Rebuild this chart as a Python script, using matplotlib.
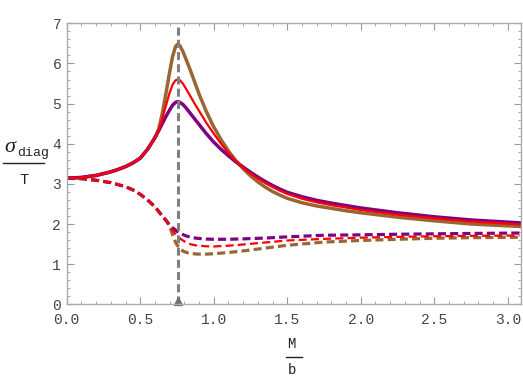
import matplotlib
matplotlib.use("Agg")
import matplotlib.pyplot as plt
from matplotlib.ticker import MultipleLocator
from matplotlib.lines import Line2D

plt.rcParams['lines.scale_dashes'] = False

# ---- data ----
x_solid = [0, 0.1, 0.2, 0.3, 0.35, 0.4, 0.45, 0.5, 0.55, 0.6, 0.625, 0.65, 0.675, 0.7, 0.72,
           0.74, 0.755, 0.77, 0.79, 0.81, 0.84, 0.87, 0.9, 0.95, 1.0, 1.05, 1.1, 1.15, 1.2,
           1.25, 1.3, 1.35, 1.4, 1.45, 1.5, 1.6, 1.7, 1.8, 1.9, 2.0, 2.25, 2.5, 2.75, 3.08]
purple_solid = [3.14, 3.16, 3.21, 3.30, 3.36, 3.43, 3.52, 3.64, 3.86, 4.15, 4.32, 4.50, 4.68,
                4.84, 4.96, 5.03, 5.05, 5.03, 4.98, 4.90, 4.76, 4.62, 4.48, 4.25, 4.04, 3.86,
                3.70, 3.55, 3.42, 3.29, 3.17, 3.06, 2.96, 2.87, 2.79, 2.68, 2.59, 2.52, 2.46,
                2.40, 2.28, 2.18, 2.10, 2.03]
red_solid = [3.14, 3.16, 3.21, 3.30, 3.36, 3.43, 3.52, 3.64, 3.86, 4.15, 4.33, 4.62, 4.95,
             5.27, 5.47, 5.58, 5.60, 5.58, 5.50, 5.38, 5.19, 5.00, 4.82, 4.52, 4.25, 4.00,
             3.77, 3.57, 3.40, 3.26, 3.13, 3.02, 2.92, 2.83, 2.75, 2.63, 2.54, 2.47, 2.41,
             2.35, 2.23, 2.14, 2.06, 1.99]
brown_solid = [3.14, 3.16, 3.21, 3.30, 3.36, 3.43, 3.52, 3.64, 3.86, 4.15, 4.35, 4.75, 5.25,
               5.78, 6.17, 6.42, 6.48, 6.44, 6.30, 6.12, 5.84, 5.54, 5.24, 4.80, 4.42, 4.10,
               3.82, 3.58, 3.38, 3.20, 3.05, 2.92, 2.81, 2.72, 2.64, 2.53, 2.45, 2.39, 2.33,
               2.28, 2.17, 2.08, 2.00, 1.94]

x_dash = [0, 0.1, 0.2, 0.3, 0.4, 0.45, 0.5, 0.55, 0.6, 0.65, 0.68, 0.7, 0.71, 0.725, 0.74,
          0.75, 0.765, 0.775, 0.79, 0.8, 0.825, 0.85, 0.875, 0.9, 0.95, 1.0, 1.1, 1.2, 1.35,
          1.5, 1.75, 2.0, 2.25, 2.5, 2.75, 3.08]
purple_dash = [3.14, 3.13, 3.09, 3.03, 2.93, 2.85, 2.74, 2.60, 2.43, 2.20, 2.07, 1.98, 1.94,
               1.89, 1.85, 1.82, 1.79, 1.77, 1.74, 1.72, 1.69, 1.67, 1.65, 1.64, 1.625, 1.62,
               1.62, 1.63, 1.65, 1.68, 1.72, 1.73, 1.745, 1.755, 1.765, 1.775]
red_dash = [3.14, 3.13, 3.09, 3.03, 2.93, 2.85, 2.74, 2.60, 2.43, 2.20, 2.07, 1.96, 1.90,
            1.82, 1.75, 1.71, 1.66, 1.63, 1.59, 1.57, 1.52, 1.49, 1.47, 1.46, 1.445, 1.44,
            1.46, 1.49, 1.54, 1.59, 1.63, 1.66, 1.68, 1.695, 1.705, 1.715]
brown_dash = [3.14, 3.13, 3.09, 3.03, 2.93, 2.85, 2.74, 2.60, 2.43, 2.20, 2.07, 1.93, 1.84,
              1.68, 1.55, 1.48, 1.41, 1.37, 1.33, 1.31, 1.28, 1.265, 1.255, 1.25, 1.25, 1.26,
              1.29, 1.33, 1.40, 1.47, 1.55, 1.59, 1.62, 1.645, 1.66, 1.67]

x_crit = 0.755
x_ticks = [0.0, 0.5, 1.0, 1.5, 2.0, 2.5, 3.0]
x_tick_labels = ["0.0", "0.5", "1.0", "1.5", "2.0", "2.5", "3.0"]
y_ticks = [0, 1, 2, 3, 4, 5, 6, 7]

PURPLE = '#800080'
RED = '#FF0000'
BROWN = '#996633'
GRAY = '#808080'
W, H = 523, 380

fig = plt.figure(figsize=(W / 100, H / 100), dpi=100)
ax = fig.add_axes([66.7 / W, 1 - 304.3 / H, (521 - 66.7) / W, (304.3 - 23.3) / H])

dash = (0, (5.8, 3.0))
ax.plot(x_dash, brown_dash, color=BROWN, lw=2.3, linestyle=dash)
ax.plot(x_dash, purple_dash, color=PURPLE, lw=2.3, linestyle=dash)
ax.plot(x_dash, red_dash, color=RED, lw=1.6, linestyle=dash)

ax.plot(x_solid, brown_solid, color=BROWN, lw=2.5)
ax.plot(x_solid, purple_solid, color=PURPLE, lw=2.5)
ax.plot(x_solid, red_solid, color=RED, lw=1.6)

ax.axvline(x_crit, color=GRAY, lw=2.2, linestyle=(0, (5.8, 3.0)))
ax.plot([x_crit], [0.08], marker='^', color='#707070', markersize=6, clip_on=False)

ax.set_xlim(0, 3.09)
ax.set_ylim(0, 7)
ax.set_xticks(x_ticks)
ax.set_xticklabels(x_tick_labels)
ax.set_yticks(y_ticks)
ax.xaxis.set_minor_locator(MultipleLocator(0.1))
ax.yaxis.set_minor_locator(MultipleLocator(0.2))

for s in ax.spines.values():
    s.set_color('#aaaaaa')
    s.set_linewidth(1.0)
ax.tick_params(which='both', direction='in', top=True, right=True, color='#999999',
               labelcolor='#444444', labelsize=10.5)
ax.tick_params(axis='x', pad=6)
ax.tick_params(axis='y', pad=4)
ax.tick_params(which='major', length=5, width=0.8)
ax.tick_params(which='minor', length=2.5, width=0.6)
for lbl in ax.get_xticklabels() + ax.get_yticklabels():
    lbl.set_fontfamily('Liberation Mono')

TXT = '#222222'
# x label: M over b
fig.text(291.5 / W, 1 - 344 / H, 'M', fontsize=10, family='Liberation Mono', color=TXT,
         ha='center', va='center')
fig.add_artist(Line2D([285.5 / W, 302 / W], [1 - 356.5 / H] * 2, color=TXT, lw=1.0))
fig.text(292 / W, 1 - 370 / H, 'b', fontsize=10, family='Liberation Mono', color=TXT,
         ha='center', va='center')

# y label: sigma_diag over T
fig.text(10 / W, 1 - 148 / H, '\u03c3', fontsize=16, family='Liberation Serif', style='italic',
         color=TXT, ha='center', va='center')
fig.text(17 / W, 1 - 153 / H, 'diag', fontsize=9.5, family='Liberation Mono', color=TXT,
         ha='left', va='center')
fig.add_artist(Line2D([3 / W, 44 / W], [1 - 163 / H] * 2, color=TXT, lw=1.0))
fig.text(23.5 / W, 1 - 180.5 / H, 'T', fontsize=11, family='Liberation Mono', color=TXT,
         ha='center', va='center')

fig.savefig('out.png', dpi=100)
